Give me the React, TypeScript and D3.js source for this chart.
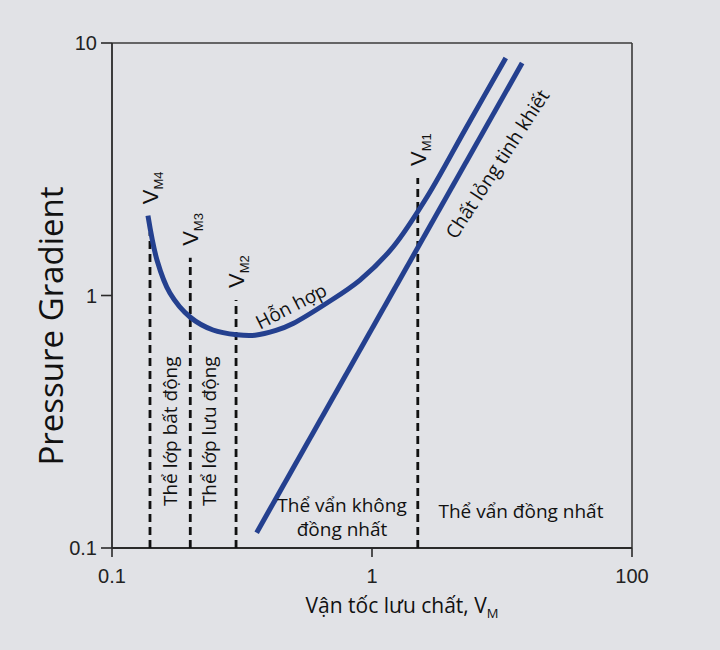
import React from "react";
import * as d3 from "d3";

// ---- data ----
const xTickValues = [0.1, 1, 10];
const xTickLabels = ["0.1", "1", "100"];
const yTickValues = [0.1, 1, 10];
const yTickLabels = ["0.1", "1", "10"];

// mixture (Hỗn hợp) curve: fluid velocity vs pressure gradient
const mixtureV = [0.1375, 0.149, 0.167, 0.1995, 0.2446, 0.3025, 0.355, 0.427, 0.497, 0.671, 0.899, 1.205, 1.627, 2.3, 3.27];
const mixtureDP = [2.07, 1.38, 1.023, 0.822, 0.73, 0.699, 0.696, 0.727, 0.775, 0.934, 1.151, 1.556, 2.455, 4.61, 8.72];

// pure liquid (Chất lỏng tinh khiết)
const liquidV = [0.36, 3.78];
const liquidDP = [0.115, 8.33];

// transition velocities
const transitionNames = ["M4", "M3", "M2", "M1"];
const transitionV = [0.14, 0.2, 0.3, 1.5];
const transitionTop = [1.78, 1.41, 0.96, 2.92];

const regimeVertical = ["Thể lớp bất động", "Thể lớp lưu động"];
const heteroLines = ["Thể vẩn không", "đồng nhất"];

const W = 720;
const H = 650;
const BG = "#e1e2e6";
const BLUE = "#24408f";
const FONT = "'Open Sans', 'DejaVu Sans', sans-serif";
const TICKFONT = "'Liberation Sans', Arial, sans-serif";

export default function App() {
  const x = d3.scaleLog().domain([0.1, 10]).range([112, 632]);
  const y = d3.scaleLog().domain([0.1, 10]).range([548, 43]);

  const mixPts: [number, number][] = mixtureV.map((v, i) => [x(v), y(mixtureDP[i])]);
  const liqPts: [number, number][] = liquidV.map((v, i) => [x(v), y(liquidDP[i])]);
  const lineGen = d3.line().curve(d3.curveCatmullRom.alpha(0.5));
  const straight = d3.line();

  const [x0, x1] = x.range();
  const [yb, yt] = y.range();

  return (
    <svg width={W} height={H} style={{ position: "absolute", left: 0, top: 0, display: "block" }}>
      <rect x={0} y={0} width={W} height={H} fill={BG} />

      {/* frame */}
      <line x1={x0} y1={yt} x2={x1} y2={yt} stroke="#3a3a3a" strokeWidth={1.6} />
      <line x1={x1} y1={yt} x2={x1} y2={yb} stroke="#3a3a3a" strokeWidth={1.6} />
      <line x1={x0} y1={yb} x2={x1} y2={yb} stroke="#2a2a2a" strokeWidth={1.8} />
      <line x1={x0} y1={yt} x2={x0} y2={yb} stroke="#2a2a2a" strokeWidth={1.8} />

      {/* y ticks */}
      {yTickValues.map((v, i) => (
        <g key={"yt" + i}>
          <line x1={x0 - 11} x2={x0} y1={y(v)} y2={y(v)} stroke="#2a2a2a" strokeWidth={1.6} />
          <text x={x0 - 15} y={y(v)} textAnchor="end" dominantBaseline="central"
            fontFamily={TICKFONT} fontSize={20} fill="#222">{yTickLabels[i]}</text>
        </g>
      ))}
      {/* x ticks */}
      {xTickValues.map((v, i) => (
        <g key={"xt" + i}>
          <line x1={x(v)} x2={x(v)} y1={yb} y2={yb + 9} stroke="#2a2a2a" strokeWidth={1.6} />
          <text x={x(v)} y={583} textAnchor="middle"
            fontFamily={TICKFONT} fontSize={20} fill="#222">{xTickLabels[i]}</text>
        </g>
      ))}

      {/* transition dashed lines */}
      {transitionV.map((v, i) => (
        <g key={"tr" + i}>
          <line x1={x(v)} x2={x(v)} y1={yb} y2={y(transitionTop[i])}
            stroke="#111" strokeWidth={2.8} strokeDasharray="8 5" />
          <text transform={`translate(${x(v) + 8},${y(transitionTop[i]) - (i === 0 ? 28 : 12)}) rotate(-90)`}
            fontFamily={TICKFONT} fontSize={22} fill="#111">
            V<tspan fontSize={13} dy={5}>{transitionNames[i]}</tspan>
          </text>
        </g>
      ))}

      {/* curves */}
      <path d={lineGen(mixPts) || ""} fill="none" stroke={BLUE} strokeWidth={5} strokeLinecap="butt" />
      <path d={straight(liqPts) || ""} fill="none" stroke={BLUE} strokeWidth={5} strokeLinecap="butt" />

      {/* regime labels (vertical) */}
      {regimeVertical.map((t, i) => {
        const cx = (x(transitionV[i]) + x(transitionV[i + 1])) / 2 + (i === 0 ? 0 : -4);
        const cy = y(0.29);
        return (
          <text key={"rv" + i} transform={`translate(${cx},${cy}) rotate(-90)`}
            textAnchor="middle" dominantBaseline="central"
            fontFamily={FONT} fontSize={19} fill="#111">{t}</text>
        );
      })}

      <text transform={`translate(${x(0.488)},${y(0.909)}) rotate(-27)`} textAnchor="middle"
        dominantBaseline="central" fontFamily={FONT} fontSize={19} fill="#111">Hỗn hợp</text>

      <text transform={`translate(${x(3.03)},${y(3.32)}) rotate(-57)`} textAnchor="middle"
        dominantBaseline="central" fontFamily={FONT} fontSize={19} fill="#111">Chất lỏng tinh khiết</text>

      {heteroLines.map((t, i) => (
        <text key={"hl" + i} x={x(0.767)} y={y(0.139) + i * 24} textAnchor="middle"
          fontFamily={FONT} fontSize={19} fill="#111">{t}</text>
      ))}

      <text x={x(3.74)} y={y(0.1315)} textAnchor="middle" fontFamily={FONT} fontSize={19} fill="#111">Thể vẩn đồng nhất</text>

      {/* axis titles */}
      <text transform={`translate(63,326) rotate(-90)`} textAnchor="middle"
        fontFamily={FONT} fontSize={33} fill="#111">Pressure Gradient</text>

      <text x={402} y={613} textAnchor="middle" fontFamily={FONT} fontSize={21} fill="#111">
        Vận tốc lưu chất, V<tspan fontSize={13} dy={5}>M</tspan>
      </text>
    </svg>
  );
}
